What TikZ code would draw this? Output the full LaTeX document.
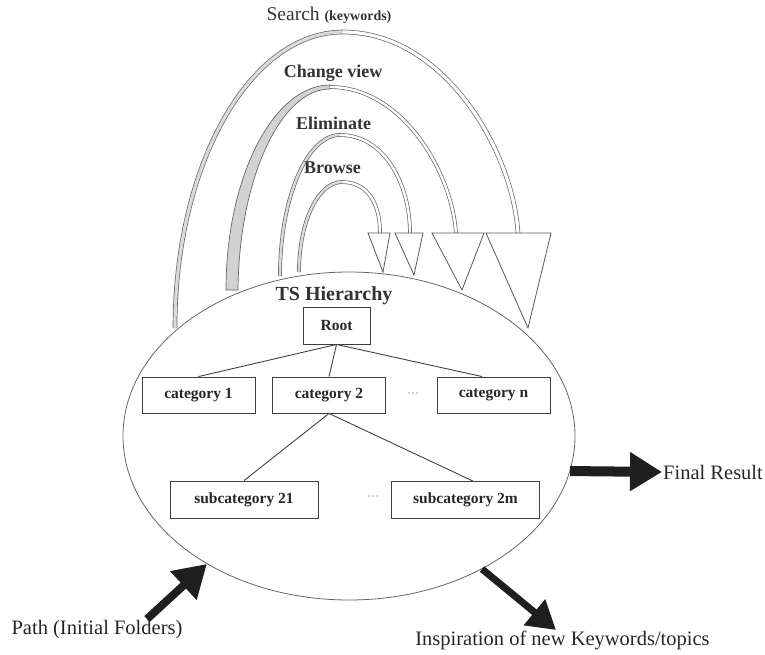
\documentclass[tikz,border=0pt]{standalone}
\usepackage{fontspec}
\setmainfont{Liberation Serif}
\usetikzlibrary{shapes.geometric,arrows.meta,calc}
\begin{document}
\begin{tikzpicture}[x=1pt,y=-1pt,
  box/.style={draw=black!75, line width=0.9pt, minimum height=36pt, inner sep=0pt,
    font=\fontsize{15.5}{18}\selectfont\bfseries, text=black!85},
  edge/.style={draw=black!75, line width=0.9pt},
  arcl/.style={draw=black!60, line width=0.7pt, double=gray!30, double distance=2.4pt},
  arcr/.style={draw=black!60, line width=0.7pt, double=white, double distance=2.4pt},
  head/.style={draw=black!65, line width=0.8pt, fill=white, line join=miter},
  lab/.style={font=\fontsize{18}{20}\selectfont\bfseries, text=black!80, inner sep=0pt},
  big/.style={font=\fontsize{20.5}{24}\selectfont, text=black!85, inner sep=1pt},
  dots/.style={font=\fontsize{12}{14}\selectfont, text=black!50, inner sep=0pt},
  fat/.style={draw=black!88, -{Triangle[length=32pt,width=37pt]}},
]
\useasboundingbox (0,0) rectangle (765,654);

% hierarchy ellipse
\node[ellipse, draw=black!60, line width=0.8pt, minimum width=452pt, minimum height=328pt, inner sep=0pt] (ts) at (349,436) {};

% Search arc
\draw[arcl, double distance=3.2pt] (175,328) .. controls (175,164) and (250,32) .. (343,32);
\draw[arcr, double distance=3.2pt] (343,32) .. controls (444,32) and (513,151) .. (518,233);
\draw[head] (486,233) -- (551,233) -- (528,328) -- cycle;

% Change view arc
\filldraw[draw=black!60, line width=0.7pt, fill=gray!35] (226,290) .. controls (226,176) and (274,85) .. (330,85) -- (330,89) .. controls (281,89) and (239,178) .. (238,290) -- cycle;
\draw[arcr] (330,87) .. controls (403,87) and (452,173) .. (456,233);
\draw[head] (432,233) -- (484,233) -- (462,290) -- cycle;

% Eliminate arc
\draw[arcl] (280,276) .. controls (280,198) and (307,135) .. (340,135);
\draw[arcr] (340,135) .. controls (385,135) and (410,185) .. (410,233);
\draw[head] (395,233) -- (423,233) -- (414,275) -- cycle;

% Browse arc
\draw[arcl] (299,272) .. controls (299,222) and (318,182) .. (342,182);
\draw[arcr] (342,182) .. controls (365,182) and (380,200) .. (380,233);
\draw[head] (368,233) -- (390,233) -- (383,272) -- cycle;

% arc labels
\node[lab, font=\fontsize{19.5}{22}\selectfont] (search) at (329,15) {Search {\fontsize{14}{16}\selectfont\bfseries(keywords)}};
\node[lab] (change) at (333,73) {Change view};
\node[lab] (elim) at (333.5,123) {Eliminate};
\node[lab] (browse) at (332.5,168) {Browse};

% tree
\node[lab, font=\fontsize{20}{22}\selectfont\bfseries] (tsh) at (334,296) {TS Hierarchy};
\node[box, minimum width=67pt, minimum height=37pt] (root) at (336.5,325.5) {Root};
\node[box, minimum width=113pt] (cat1) at (198.5,395) {category 1};
\node[box, minimum width=113pt] (cat2) at (329,395) {category 2};
\node[box, minimum width=113pt] (catn) at (493.5,395) {category n};
\node[box, minimum width=148pt, minimum height=37pt] (sub21) at (244,499.5) {subcategory 21};
\node[box, minimum width=148pt, minimum height=37pt] (sub2m) at (465.5,500) {subcategory 2m};
\node[dots] (d1) at (413,395) {···};
\node[dots] (d2) at (373,498) {···};

\draw[edge] (root.south) -- (cat1.north);
\draw[edge] (root.south) -- (cat2.north);
\draw[edge] (root.south) -- ($(catn.north west)!0.4!(catn.north east)$);
\draw[edge] (cat2.south) -- (sub21.north);
\draw[edge] (cat2.south) -- ($(sub2m.north west)!0.55!(sub2m.north east)$);

% outer arrows and labels
\node[big, anchor=west] (final) at (662,472) {Final Result};
\draw[fat, line width=10pt] (ts.-9.25) -- (final.west);

\node[big] (pathlab) at (97,630) {Path (Initial Folders)};
\coordinate (pathtail) at (147,619);
\draw[fat, line width=8pt] (pathtail) -- (ts.222.3);

\node[big] (insp) at (562.5,640) {Inspiration of new Keywords/topics};
\coordinate (insptip) at (556,630);
\draw[fat, line width=7pt, -{Triangle[length=28pt,width=32pt]}] (ts.-45.2) -- (insptip);
\end{tikzpicture}
\end{document}
